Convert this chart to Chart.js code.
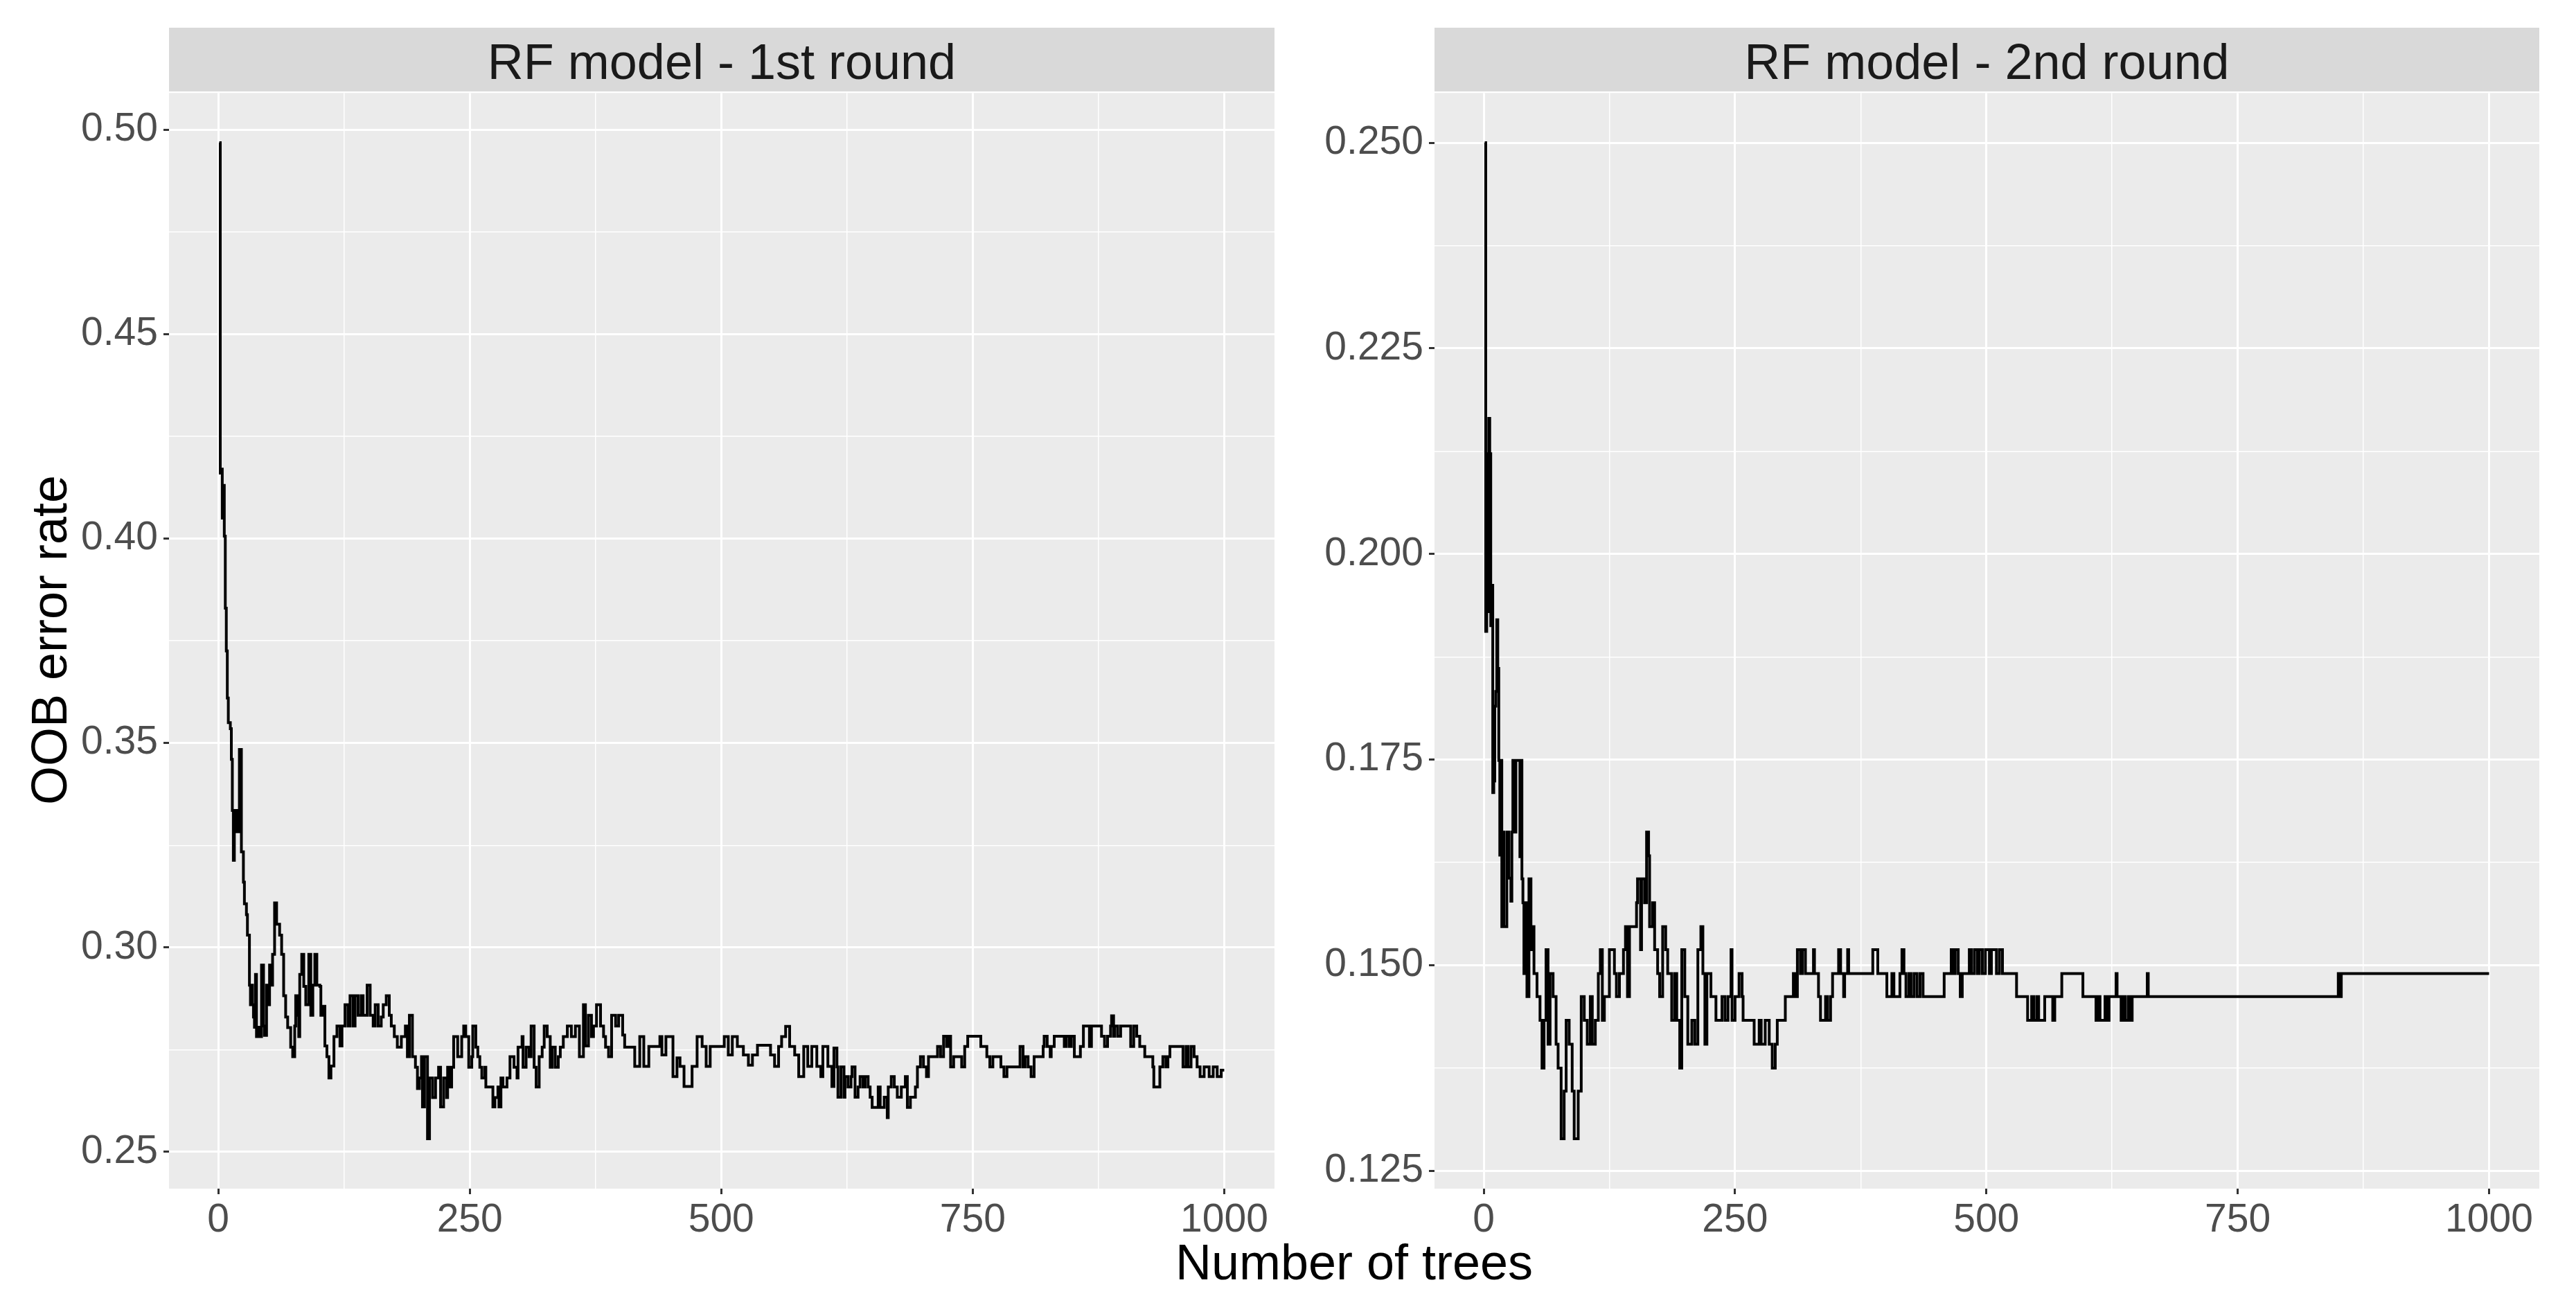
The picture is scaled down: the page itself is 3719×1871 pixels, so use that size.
<!DOCTYPE html>
<html><head><meta charset="utf-8">
<script src="https://cdn.jsdelivr.net/npm/chart.js@4.4.1/dist/chart.umd.min.js"></script>
<style>
html,body{margin:0;padding:0;background:#ffffff;}
body{width:3719px;height:1871px;position:relative;overflow:hidden;font-family:"Liberation Sans",Arial,sans-serif;}
canvas{position:absolute;}
.strip{position:absolute;top:40px;height:86px;padding-top:6px;background:#D9D9D9;color:#1A1A1A;font-size:72px;line-height:86px;text-align:center;white-space:nowrap;}
.axt{position:absolute;color:#000000;font-size:72px;line-height:72px;white-space:nowrap;}
</style></head><body>
<div class="strip" style="left:244px;width:1596px;">RF model - 1st round</div>
<div class="strip" style="left:2071px;width:1595px;">RF model - 2nd round</div>
<div class="axt" style="left:71px;top:924px;transform:translate(-50%,-50%) rotate(-90deg);">OOB error rate</div>
<div class="axt" style="left:1955px;top:1822px;transform:translate(-50%,-50%);">Number of trees</div>
<canvas id="c1" width="1796" height="1724" style="left:94px;top:92px;"></canvas>
<canvas id="c2" width="1823" height="1724" style="left:1891px;top:92px;"></canvas>
<script>
// ---- Data (each value holds until the next listed tree) ----
const round1Trees = [
  1,2,3,4,5,6,7,8,9,10,
  12,13,14,15,16,17,18,20,21,23,
  25,26,28,29,31,32,33,34,35,36,
  37,38,40,42,43,45,46,48,50,51,
  53,54,56,58,61,63,65,67,69,72,
  74,76,77,79,80,81,83,85,87,90,
  92,94,96,98,101,102,104,106,108,110,
  112,115,118,121,123,126,129,131,134,136,
  139,142,144,148,151,154,156,159,162,164,
  167,170,172,175,178,182,186,188,190,193,
  196,198,200,202,203,205,208,210,213,216,
  219,221,224,227,228,230,232,234,238,242,
  244,246,249,252,253,256,258,260,262,265,
  266,273,275,278,279,281,283,287,290,294,
  297,298,302,303,306,309,311,314,316,319,
  322,324,327,330,332,335,338,340,343,347,
  351,355,359,363,365,368,371,373,376,380,
  383,385,388,391,395,398,402,404,414,419,
  423,428,439,441,445,452,456,459,463,471,
  476,481,485,489,503,507,511,516,522,527,
  531,536,549,553,557,560,564,568,573,577,
  582,586,590,595,599,601,606,610,612,615,
  616,619,622,623,626,629,630,633,636,638,
  641,643,646,648,650,656,658,662,665,666,
  669,672,675,679,683,685,688,693,695,698,
  701,704,706,715,718,721,724,726,728,731,
  739,742,745,758,764,767,770,778,781,784,
  797,800,802,805,808,811,820,821,824,827,
  828,831,841,843,846,848,851,857,860,866,
  868,878,881,884,887,888,890,891,894,897,
  907,910,913,916,921,929,930,936,939,942,
  944,946,959,962,964,967,970,973,976,980,
  985,989,993,997,1000
];
const round1OOB = [
  0.4968,0.4160,0.4170,0.4050,0.4130,0.4006,0.3830,0.3725,0.3610,0.3550,
  0.3535,0.3460,0.3335,0.3213,0.3335,0.3283,0.3335,0.3283,0.3484,0.3234,
  0.3160,0.3107,0.3080,0.3030,0.2908,0.2860,0.2908,0.2860,0.2830,0.2805,
  0.2934,0.2782,0.2805,0.2782,0.2957,0.2808,0.2785,0.2908,0.2860,0.2957,
  0.2908,0.2983,0.3109,0.3057,0.3030,0.2983,0.2882,0.2830,0.2804,0.2756,
  0.2733,0.2808,0.2882,0.2834,0.2782,0.2934,0.2983,0.2905,0.2860,0.2983,
  0.2834,0.2908,0.2983,0.2908,0.2905,0.2834,0.2856,0.2759,0.2733,0.2681,
  0.2710,0.2782,0.2808,0.2759,0.2808,0.2860,0.2808,0.2882,0.2808,0.2882,
  0.2834,0.2882,0.2834,0.2908,0.2834,0.2808,0.2860,0.2808,0.2830,0.2860,
  0.2882,0.2834,0.2808,0.2782,0.2756,0.2782,0.2808,0.2733,0.2834,0.2733,
  0.2707,0.2655,0.2681,0.2733,0.2610,0.2733,0.2532,0.2681,0.2633,0.2681,
  0.2707,0.2610,0.2681,0.2633,0.2707,0.2659,0.2707,0.2782,0.2733,0.2782,
  0.2808,0.2782,0.2707,0.2733,0.2808,0.2756,0.2733,0.2707,0.2681,0.2707,
  0.2659,0.2610,0.2633,0.2659,0.2610,0.2681,0.2659,0.2681,0.2733,0.2707,
  0.2681,0.2756,0.2782,0.2707,0.2756,0.2733,0.2808,0.2707,0.2659,0.2733,
  0.2756,0.2808,0.2782,0.2707,0.2756,0.2707,0.2733,0.2756,0.2782,0.2808,
  0.2782,0.2808,0.2733,0.2860,0.2759,0.2834,0.2782,0.2808,0.2860,0.2808,
  0.2782,0.2756,0.2733,0.2834,0.2808,0.2834,0.2786,0.2756,0.2709,0.2782,
  0.2709,0.2758,0.2782,0.2737,0.2782,0.2684,0.2730,0.2709,0.2660,0.2709,
  0.2782,0.2758,0.2709,0.2758,0.2782,0.2737,0.2782,0.2758,0.2737,0.2712,
  0.2737,0.2761,0.2737,0.2709,0.2758,0.2782,0.2807,0.2758,0.2737,0.2684,
  0.2758,0.2709,0.2758,0.2709,0.2684,0.2758,0.2709,0.2660,0.2754,0.2708,
  0.2634,0.2708,0.2634,0.2684,0.2659,0.2684,0.2708,0.2634,0.2659,0.2684,
  0.2659,0.2684,0.2659,0.2634,0.2609,0.2659,0.2609,0.2634,0.2584,0.2659,
  0.2684,0.2659,0.2634,0.2659,0.2684,0.2609,0.2634,0.2659,0.2708,0.2733,
  0.2708,0.2684,0.2733,0.2758,0.2733,0.2783,0.2758,0.2783,0.2708,0.2733,
  0.2708,0.2758,0.2783,0.2758,0.2733,0.2708,0.2733,0.2708,0.2684,0.2708,
  0.2758,0.2708,0.2733,0.2708,0.2684,0.2733,0.2758,0.2783,0.2758,0.2733,
  0.2758,0.2783,0.2758,0.2783,0.2758,0.2783,0.2733,0.2758,0.2808,0.2758,
  0.2808,0.2783,0.2758,0.2783,0.2808,0.2833,0.2783,0.2808,0.2783,0.2808,
  0.2758,0.2808,0.2783,0.2758,0.2733,0.2708,0.2659,0.2708,0.2733,0.2708,
  0.2733,0.2758,0.2708,0.2758,0.2708,0.2758,0.2733,0.2708,0.2684,0.2708,
  0.2684,0.2708,0.2684,0.2700,0.2700
];
const round2Trees = [
  1,2,3,4,5,6,7,8,9,10,
  11,12,13,14,15,16,17,18,19,20,
  23,25,27,28,29,31,32,36,37,38,
  39,40,42,43,45,47,48,50,53,56,
  58,60,62,64,66,69,72,74,77,80,
  82,85,88,90,94,97,100,103,106,108,
  111,114,116,118,120,125,130,132,135,139,
  141,143,145,152,153,156,157,160,162,164,
  165,168,170,173,175,178,181,183,187,190,
  192,195,197,200,203,207,210,213,216,218,
  220,222,226,231,237,240,243,246,247,250,
  254,257,258,269,274,276,280,284,287,290,
  292,300,308,310,312,315,317,320,328,329,
  333,335,340,342,345,347,353,355,358,359,
  362,363,387,392,401,406,408,414,416,418,
  420,423,425,428,431,434,437,458,465,467,
  469,472,474,476,483,485,488,491,493,496,
  499,503,505,510,513,516,530,541,545,547,
  550,552,558,566,568,575,596,609,611,613,
  618,620,622,629,630,634,636,638,641,643,
  645,660,661,850,851,853,1000
];
const round2OOB = [
  0.2500,0.1906,0.2122,0.1930,0.2165,0.2122,0.1913,0.1962,0.1710,0.1724,
  0.1815,0.1833,0.1920,0.1861,0.1749,0.1634,0.1749,0.1547,0.1662,0.1547,
  0.1662,0.1606,0.1578,0.1662,0.1749,0.1662,0.1749,0.1632,0.1749,0.1605,
  0.1576,0.1490,0.1576,0.1462,0.1605,0.1519,0.1547,0.1490,0.1462,0.1433,
  0.1375,0.1433,0.1519,0.1404,0.1490,0.1462,0.1404,0.1375,0.1289,0.1347,
  0.1433,0.1404,0.1347,0.1289,0.1347,0.1462,0.1433,0.1404,0.1462,0.1404,
  0.1433,0.1490,0.1519,0.1433,0.1462,0.1519,0.1490,0.1462,0.1490,0.1519,
  0.1547,0.1462,0.1547,0.1576,0.1605,0.1519,0.1605,0.1576,0.1662,0.1633,
  0.1547,0.1576,0.1519,0.1490,0.1462,0.1547,0.1519,0.1490,0.1433,0.1490,
  0.1433,0.1375,0.1519,0.1462,0.1404,0.1433,0.1404,0.1519,0.1547,0.1490,
  0.1404,0.1490,0.1462,0.1433,0.1462,0.1433,0.1462,0.1519,0.1433,0.1462,
  0.1490,0.1462,0.1433,0.1404,0.1433,0.1404,0.1433,0.1404,0.1375,0.1404,
  0.1433,0.1462,0.1490,0.1462,0.1519,0.1490,0.1519,0.1490,0.1519,0.1490,
  0.1462,0.1433,0.1462,0.1433,0.1462,0.1490,0.1519,0.1490,0.1462,0.1490,
  0.1519,0.1490,0.1519,0.1490,0.1462,0.1490,0.1462,0.1490,0.1519,0.1490,
  0.1462,0.1490,0.1462,0.1490,0.1462,0.1490,0.1462,0.1490,0.1519,0.1490,
  0.1519,0.1490,0.1462,0.1490,0.1519,0.1490,0.1519,0.1490,0.1519,0.1490,
  0.1519,0.1490,0.1519,0.1490,0.1519,0.1490,0.1462,0.1433,0.1462,0.1433,
  0.1462,0.1433,0.1462,0.1433,0.1462,0.1490,0.1462,0.1433,0.1462,0.1433,
  0.1462,0.1433,0.1462,0.1490,0.1462,0.1433,0.1462,0.1433,0.1462,0.1433,
  0.1462,0.1490,0.1462,0.1490,0.1462,0.1490,0.1490
];

// ---- Axis ticks ----
const xMajorTicks = [0, 250, 500, 750, 1000];
const xMinorTicks = [125, 375, 625, 875];
const round1YMajor = [0.25, 0.30, 0.35, 0.40, 0.45, 0.50];
const round1YMinor = [0.275, 0.325, 0.375, 0.425, 0.475];
const round1YLabels = ['0.25', '0.30', '0.35', '0.40', '0.45', '0.50'];
const round2YMajor = [0.125, 0.150, 0.175, 0.200, 0.225, 0.250];
const round2YMinor = [0.1375, 0.1625, 0.1875, 0.2125, 0.2375];
const round2YLabels = ['0.125', '0.150', '0.175', '0.200', '0.225', '0.250'];

// ---- Drawing ----
const expand = arr => {
  const lo = Math.min(...arr), hi = Math.max(...arr), pad = (hi - lo) * 0.05;
  return [lo - pad, hi + pad];
};
const near = (arr, v) => arr.findIndex(m => Math.abs(m - v) < 1e-9);

const panelBg = {
  id: 'panelBg',
  beforeDraw(chart) {
    const { ctx, chartArea: a } = chart;
    ctx.save();
    ctx.fillStyle = '#EBEBEB';
    ctx.fillRect(a.left, a.top, a.right - a.left, a.bottom - a.top);
    ctx.restore();
  }
};

function makePanel(id, trees, oob, yMajor, yMinor, yLabels, axisW, rightPad) {
  const [xmin, xmax] = expand(trees);
  const [ymin, ymax] = expand(oob);
  const xTicks = xMajorTicks.concat(xMinorTicks).sort((a, b) => a - b);
  const yTicks = yMajor.concat(yMinor).sort((a, b) => a - b);
  const tickFont = { family: 'Liberation Sans', size: 57 };
  const gridOpts = (major) => ({
    color: '#FFFFFF',
    lineWidth: c => (c.tick && near(major, c.tick.value) >= 0) ? 3 : 1.5,
    tickColor: c => (c.tick && near(major, c.tick.value) >= 0) ? '#333333' : 'rgba(0,0,0,0)',
    tickLength: 8,
    tickWidth: 3,
    drawTicks: true
  });
  return new Chart(document.getElementById(id), {
    type: 'line',
    data: {
      datasets: [{
        data: trees.map((t, i) => ({ x: t, y: oob[i] })),
        stepped: 'before',
        borderColor: '#000000',
        borderWidth: 4,
        borderJoinStyle: 'miter',
        pointRadius: 0,
        fill: false,
        tension: 0
      }]
    },
    options: {
      responsive: false,
      animation: false,
      devicePixelRatio: 1,
      layout: { padding: { top: 40, right: rightPad, bottom: 0, left: 0 } },
      plugins: { legend: { display: false }, tooltip: { enabled: false }, title: { display: false } },
      scales: {
        x: {
          type: 'linear', min: xmin, max: xmax,
          afterBuildTicks: s => { s.ticks = xTicks.map(v => ({ value: v })); },
          afterFit: s => { s.height = 100; },
          ticks: {
            autoSkip: false, maxRotation: 0, minRotation: 0, padding: 4,
            color: '#4D4D4D', font: tickFont,
            callback: v => near(xMajorTicks, v) >= 0 ? String(v) : ''
          },
          grid: gridOpts(xMajorTicks),
          border: { display: false }
        },
        y: {
          type: 'linear', min: ymin, max: ymax,
          afterBuildTicks: s => { s.ticks = yTicks.map(v => ({ value: v })); },
          afterFit: s => { s.width = axisW; },
          ticks: {
            autoSkip: false, padding: 8,
            color: '#4D4D4D', font: tickFont,
            callback: v => { const k = near(yMajor, v); return k >= 0 ? yLabels[k] : ''; }
          },
          grid: gridOpts(yMajor),
          border: { display: false }
        }
      }
    },
    plugins: [panelBg]
  });
}

makePanel('c1', round1Trees, round1OOB, round1YMajor, round1YMinor, round1YLabels, 150, 50);
makePanel('c2', round2Trees, round2OOB, round2YMajor, round2YMinor, round2YLabels, 180, 48);
</script>
</body></html>
